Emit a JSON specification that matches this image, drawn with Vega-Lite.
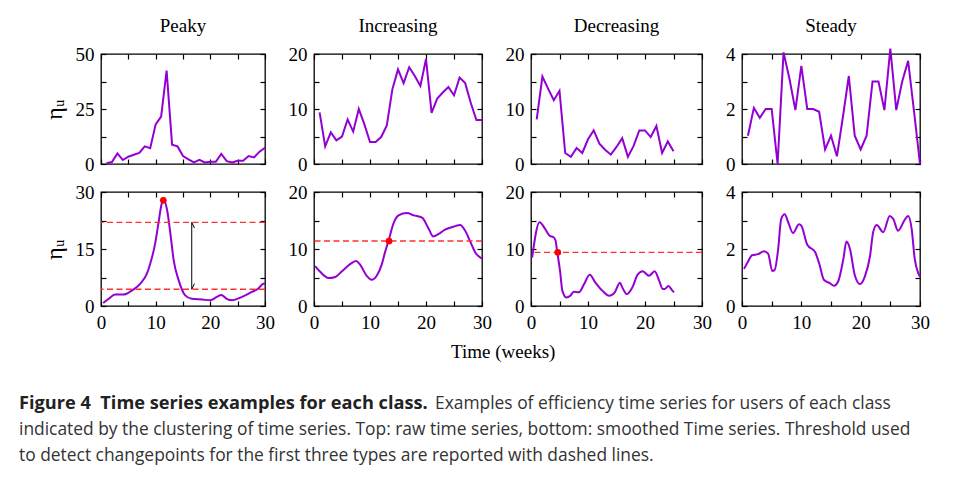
{
 "$schema": "https://vega.github.io/schema/vega-lite/v6.json",
 "padding": {"left": 18, "top": 15, "right": 0, "bottom": 0},
 "background": "white",
 "datasets": {
  "raw": [
   {"c":"Peaky","t":1,"v":0.3},{"c":"Peaky","t":2,"v":0.9},{"c":"Peaky","t":3,"v":4.8},{"c":"Peaky","t":4,"v":1.8},{"c":"Peaky","t":5,"v":3.3},{"c":"Peaky","t":6,"v":4.2},{"c":"Peaky","t":7,"v":5.0},{"c":"Peaky","t":8,"v":8.0},{"c":"Peaky","t":9,"v":7.2},{"c":"Peaky","t":10,"v":18},{"c":"Peaky","t":11,"v":21.5},{"c":"Peaky","t":12,"v":42.5},{"c":"Peaky","t":13,"v":8.8},{"c":"Peaky","t":14,"v":8.0},{"c":"Peaky","t":15,"v":3.6},{"c":"Peaky","t":16,"v":2.1},{"c":"Peaky","t":17,"v":0.7},{"c":"Peaky","t":18,"v":1.9},{"c":"Peaky","t":19,"v":0.7},{"c":"Peaky","t":20,"v":1.0},{"c":"Peaky","t":21,"v":1.0},{"c":"Peaky","t":22,"v":4.6},{"c":"Peaky","t":23,"v":1.3},{"c":"Peaky","t":24,"v":0.7},{"c":"Peaky","t":25,"v":1.5},{"c":"Peaky","t":26,"v":1.5},{"c":"Peaky","t":27,"v":3.6},{"c":"Peaky","t":28,"v":3.0},{"c":"Peaky","t":29,"v":5.6},{"c":"Peaky","t":30,"v":7.4},
   {"c":"Increasing","t":1,"v":9.4},{"c":"Increasing","t":2,"v":3.2},{"c":"Increasing","t":3,"v":5.75},{"c":"Increasing","t":4,"v":4.3},{"c":"Increasing","t":5,"v":5.0},{"c":"Increasing","t":6,"v":8.1},{"c":"Increasing","t":7,"v":5.9},{"c":"Increasing","t":8,"v":10.0},{"c":"Increasing","t":9,"v":7.2},{"c":"Increasing","t":10,"v":4.0},{"c":"Increasing","t":11,"v":4.0},{"c":"Increasing","t":12,"v":4.9},{"c":"Increasing","t":13,"v":7.0},{"c":"Increasing","t":14,"v":13.6},{"c":"Increasing","t":15,"v":17.2},{"c":"Increasing","t":16,"v":14.7},{"c":"Increasing","t":17,"v":17.6},{"c":"Increasing","t":18,"v":16},{"c":"Increasing","t":19,"v":14.2},{"c":"Increasing","t":20,"v":19.1},{"c":"Increasing","t":21,"v":9.3},{"c":"Increasing","t":22,"v":11.9},{"c":"Increasing","t":23,"v":13},{"c":"Increasing","t":24,"v":14},{"c":"Increasing","t":25,"v":12.5},{"c":"Increasing","t":26,"v":15.7},{"c":"Increasing","t":27,"v":14.7},{"c":"Increasing","t":28,"v":11.1},{"c":"Increasing","t":29,"v":8.0},{"c":"Increasing","t":30,"v":8.0},
   {"c":"Decreasing","t":1,"v":8.1},{"c":"Decreasing","t":2,"v":15.9},{"c":"Decreasing","t":3,"v":13.7},{"c":"Decreasing","t":4,"v":11.6},{"c":"Decreasing","t":5,"v":13.3},{"c":"Decreasing","t":6,"v":2.0},{"c":"Decreasing","t":7,"v":1.3},{"c":"Decreasing","t":8,"v":2.9},{"c":"Decreasing","t":9,"v":2.0},{"c":"Decreasing","t":10,"v":4.5},{"c":"Decreasing","t":11,"v":6.1},{"c":"Decreasing","t":12,"v":3.7},{"c":"Decreasing","t":13,"v":2.6},{"c":"Decreasing","t":14,"v":1.7},{"c":"Decreasing","t":15,"v":3.1},{"c":"Decreasing","t":16,"v":4.7},{"c":"Decreasing","t":17,"v":1.3},{"c":"Decreasing","t":18,"v":3.3},{"c":"Decreasing","t":19,"v":6.1},{"c":"Decreasing","t":20,"v":6.1},{"c":"Decreasing","t":21,"v":4.9},{"c":"Decreasing","t":22,"v":6.9},{"c":"Decreasing","t":23,"v":2.0},{"c":"Decreasing","t":24,"v":4.1},{"c":"Decreasing","t":25,"v":2.3},
   {"c":"Steady","t":1,"v":1.03},{"c":"Steady","t":2,"v":2.04},{"c":"Steady","t":3,"v":1.68},{"c":"Steady","t":4,"v":2.0},{"c":"Steady","t":5,"v":2.0},{"c":"Steady","t":6,"v":0},{"c":"Steady","t":7,"v":4.06},{"c":"Steady","t":8,"v":3.1},{"c":"Steady","t":9,"v":1.96},{"c":"Steady","t":10,"v":3.57},{"c":"Steady","t":11,"v":2.0},{"c":"Steady","t":12,"v":2.0},{"c":"Steady","t":13,"v":1.9},{"c":"Steady","t":14,"v":0.53},{"c":"Steady","t":15,"v":1.03},{"c":"Steady","t":16,"v":0.28},{"c":"Steady","t":17,"v":1.7},{"c":"Steady","t":18,"v":3.2},{"c":"Steady","t":19,"v":1.03},{"c":"Steady","t":20,"v":0.53},{"c":"Steady","t":21,"v":1.03},{"c":"Steady","t":22,"v":3.0},{"c":"Steady","t":23,"v":3.0},{"c":"Steady","t":24,"v":1.96},{"c":"Steady","t":25,"v":4.2},{"c":"Steady","t":26,"v":1.96},{"c":"Steady","t":27,"v":3.0},{"c":"Steady","t":28,"v":3.75},{"c":"Steady","t":29,"v":1.9},{"c":"Steady","t":30,"v":0}
  ],
  "smooth": [
   {"c":"Peaky","t":0.4,"v":0.8},{"c":"Peaky","t":1.4,"v":1.9},{"c":"Peaky","t":2.6,"v":3.0},{"c":"Peaky","t":4.1,"v":3.0},{"c":"Peaky","t":5.7,"v":4.1},{"c":"Peaky","t":7.2,"v":5.9},{"c":"Peaky","t":8.4,"v":8.5},{"c":"Peaky","t":9.0,"v":11.1},{"c":"Peaky","t":9.9,"v":16.4},{"c":"Peaky","t":10.5,"v":21.7},{"c":"Peaky","t":11.1,"v":26.9},{"c":"Peaky","t":11.5,"v":27.9},{"c":"Peaky","t":12.1,"v":25.2},{"c":"Peaky","t":12.7,"v":19},{"c":"Peaky","t":13.3,"v":12},{"c":"Peaky","t":14.2,"v":6.8},{"c":"Peaky","t":15.4,"v":2.8},{"c":"Peaky","t":16.6,"v":1.9},{"c":"Peaky","t":18.5,"v":1.7},{"c":"Peaky","t":20,"v":1.5},{"c":"Peaky","t":21.2,"v":2.4},{"c":"Peaky","t":22,"v":2.9},{"c":"Peaky","t":23,"v":1.9},{"c":"Peaky","t":24,"v":1.5},{"c":"Peaky","t":25.8,"v":2.4},{"c":"Peaky","t":27.6,"v":3.7},{"c":"Peaky","t":28.8,"v":4.6},{"c":"Peaky","t":29.5,"v":5.7},{"c":"Peaky","t":30,"v":5.9},
   {"c":"Increasing","t":0.2,"v":7.0},{"c":"Increasing","t":1.1,"v":6.0},{"c":"Increasing","t":2.6,"v":4.9},{"c":"Increasing","t":3.8,"v":5.1},{"c":"Increasing","t":5,"v":6.1},{"c":"Increasing","t":6.4,"v":7.3},{"c":"Increasing","t":7.5,"v":7.9},{"c":"Increasing","t":8.2,"v":7.3},{"c":"Increasing","t":9.4,"v":5.3},{"c":"Increasing","t":10.3,"v":4.6},{"c":"Increasing","t":11.2,"v":5.3},{"c":"Increasing","t":12.1,"v":7.3},{"c":"Increasing","t":12.7,"v":9.5},{"c":"Increasing","t":13.3,"v":11.4},{"c":"Increasing","t":14.2,"v":14.5},{"c":"Increasing","t":15.1,"v":15.9},{"c":"Increasing","t":16.6,"v":16.3},{"c":"Increasing","t":17.8,"v":15.9},{"c":"Increasing","t":19.3,"v":15.5},{"c":"Increasing","t":20.5,"v":13.5},{"c":"Increasing","t":21.3,"v":12.2},{"c":"Increasing","t":22.2,"v":12.6},{"c":"Increasing","t":23.4,"v":13.4},{"c":"Increasing","t":24.9,"v":13.9},{"c":"Increasing","t":26.1,"v":14.2},{"c":"Increasing","t":27,"v":13.2},{"c":"Increasing","t":27.9,"v":11.3},{"c":"Increasing","t":28.8,"v":9.4},{"c":"Increasing","t":30,"v":8.3},
   {"c":"Decreasing","t":0.2,"v":8.5},{"c":"Decreasing","t":1.5,"v":14.7},{"c":"Decreasing","t":2.5,"v":13.5},{"c":"Decreasing","t":3.3,"v":12.3},{"c":"Decreasing","t":3.9,"v":12.1},{"c":"Decreasing","t":4.3,"v":11.5},{"c":"Decreasing","t":4.6,"v":9.5},{"c":"Decreasing","t":5.1,"v":6.1},{"c":"Decreasing","t":5.5,"v":2.7},{"c":"Decreasing","t":6.2,"v":1.5},{"c":"Decreasing","t":6.9,"v":1.8},{"c":"Decreasing","t":7.5,"v":2.5},{"c":"Decreasing","t":8.4,"v":2.4},{"c":"Decreasing","t":9.3,"v":3.8},{"c":"Decreasing","t":10.3,"v":5.5},{"c":"Decreasing","t":11.3,"v":4.1},{"c":"Decreasing","t":12.5,"v":2.7},{"c":"Decreasing","t":13.7,"v":1.8},{"c":"Decreasing","t":14.7,"v":2.4},{"c":"Decreasing","t":15.6,"v":4.1},{"c":"Decreasing","t":16,"v":3.3},{"c":"Decreasing","t":16.8,"v":2.1},{"c":"Decreasing","t":17.8,"v":3.3},{"c":"Decreasing","t":18.7,"v":5.5},{"c":"Decreasing","t":19.6,"v":6.1},{"c":"Decreasing","t":20.7,"v":5.3},{"c":"Decreasing","t":21.7,"v":6.1},{"c":"Decreasing","t":22.5,"v":4.4},{"c":"Decreasing","t":23.1,"v":3.0},{"c":"Decreasing","t":23.5,"v":3.0},{"c":"Decreasing","t":24.1,"v":3.5},{"c":"Decreasing","t":24.8,"v":2.7},{"c":"Decreasing","t":25.1,"v":2.4},
   {"c":"Steady","t":0.34,"v":1.3},{"c":"Steady","t":1.0,"v":1.55},{"c":"Steady","t":1.7,"v":1.78},{"c":"Steady","t":2.7,"v":1.82},{"c":"Steady","t":3.7,"v":1.92},{"c":"Steady","t":4.4,"v":1.84},{"c":"Steady","t":5.1,"v":1.23},{"c":"Steady","t":5.5,"v":1.26},{"c":"Steady","t":6.1,"v":2.0},{"c":"Steady","t":6.6,"v":3.05},{"c":"Steady","t":7.2,"v":3.22},{"c":"Steady","t":7.8,"v":2.93},{"c":"Steady","t":8.6,"v":2.56},{"c":"Steady","t":9.6,"v":2.87},{"c":"Steady","t":10,"v":2.82},{"c":"Steady","t":11,"v":2.15},{"c":"Steady","t":12.3,"v":1.9},{"c":"Steady","t":13,"v":1.5},{"c":"Steady","t":13.8,"v":0.92},{"c":"Steady","t":14.8,"v":0.8},{"c":"Steady","t":15.5,"v":0.71},{"c":"Steady","t":16.2,"v":0.86},{"c":"Steady","t":17.1,"v":1.67},{"c":"Steady","t":17.6,"v":2.26},{"c":"Steady","t":18.2,"v":2.0},{"c":"Steady","t":19,"v":1.09},{"c":"Steady","t":19.9,"v":0.77},{"c":"Steady","t":20.7,"v":1.03},{"c":"Steady","t":21.6,"v":1.78},{"c":"Steady","t":22.1,"v":2.59},{"c":"Steady","t":22.7,"v":2.84},{"c":"Steady","t":23.8,"v":2.59},{"c":"Steady","t":24.9,"v":3.16},{"c":"Steady","t":25.5,"v":3.05},{"c":"Steady","t":26.3,"v":2.64},{"c":"Steady","t":27.5,"v":3.05},{"c":"Steady","t":28,"v":3.16},{"c":"Steady","t":28.6,"v":2.7},{"c":"Steady","t":29.1,"v":1.67},{"c":"Steady","t":29.7,"v":1.15},{"c":"Steady","t":30,"v":1.03}
  ],
  "thr": [{"c":"Peaky","v":22},{"c":"Peaky","v":4.4},{"c":"Increasing","v":11.4},{"c":"Decreasing","v":9.4}],
  "dots": [{"c":"Peaky","t":11.4,"v":27.8},{"c":"Increasing","t":13.4,"v":11.4},{"c":"Decreasing","t":4.7,"v":9.4}],
  "arrow": [{"t":16.6,"v":22,"t2":16.6,"v2":4.4},{"t":16.6,"v":22,"t2":17.1,"v2":20.5},{"t":16.6,"v":4.4,"t2":17.1,"v2":5.9}],
  "caption": [
   {"line":0,"w":"b","pos":0,"text":"Figure 4\u00a0 Time series examples for each class."},
   {"line":0,"w":"n","pos":416,"text":"Examples of efficiency time series for users of each class"},
   {"line":1,"w":"n","pos":0,"text":"indicated by the clustering of time series. Top: raw time series, bottom: smoothed Time series. Threshold used"},
   {"line":2,"w":"n","pos":0,"text":"to detect changepoints for the first three types are reported with dashed lines."}
  ]
 },
 "vconcat": [
  {
   "hconcat": [
    {"vconcat": [
     {"title": "Peaky", "width": 164, "height": 110, "data": {"name": "raw"}, "transform": [{"filter": "datum.c == 'Peaky'"}],
      "layer": [
       {"mark": "line", "encoding": {
        "x": {"field": "t", "type": "quantitative", "scale": {"domain": [0, 30], "nice": false, "zero": false}, "axis": {"values": [0,5,10,15,20,25,30], "labels": false, "title": null}},
        "y": {"field": "v", "type": "quantitative", "scale": {"domain": [0, 50], "nice": false}, "axis": {"values": [0,12.5,25,37.5,50], "labelExpr": "datum.value % 25 == 0 ? datum.label : ''", "title": "ηᵤ"}}}},
       {"mark": {"type": "line", "opacity": 0}, "encoding": {
        "x": {"field": "t", "type": "quantitative", "axis": {"orient": "top", "values": [0,5,10,15,20,25,30], "labels": false, "title": null}},
        "y": {"field": "v", "type": "quantitative", "axis": {"orient": "right", "values": [0,12.5,25,37.5,50], "labels": false, "title": null}}}},
       {"mark": {"type": "line", "opacity": 0}, "encoding": {
        "x": {"field": "t", "type": "quantitative", "axis": null},
        "y": {"field": "v", "type": "quantitative", "axis": {"orient": "left", "offset": 82, "labels": false, "ticks": false, "domain": true, "domainOpacity": 0, "title": null}}}}
      ],
      "resolve": {"axis": {"x": "independent", "y": "independent"}}},
     {"width": 164, "height": 114,
      "layer": [
       {"data": {"name": "smooth"}, "transform": [{"filter": "datum.c == 'Peaky'"}], "mark": {"type": "line", "interpolate": "monotone"}, "encoding": {
        "x": {"field": "t", "type": "quantitative", "scale": {"domain": [0, 30], "nice": false, "zero": false}, "axis": {"values": [0,5,10,15,20,25,30], "labelExpr": "datum.value % 10 == 0 ? datum.label : ''", "title": null}},
        "y": {"field": "v", "type": "quantitative", "scale": {"domain": [0, 30], "nice": false}, "axis": {"values": [0,7.5,15,22.5,30], "labelExpr": "datum.value % 15 == 0 ? datum.label : ''", "title": "ηᵤ"}}}},
       {"data": {"name": "smooth"}, "transform": [{"filter": "datum.c == 'Peaky'"}], "mark": {"type": "line", "opacity": 0}, "encoding": {
        "x": {"field": "t", "type": "quantitative", "axis": {"orient": "top", "values": [0,5,10,15,20,25,30], "labels": false, "title": null}},
        "y": {"field": "v", "type": "quantitative", "axis": {"orient": "right", "values": [0,7.5,15,22.5,30], "labels": false, "title": null}}}},
       {"data": {"name": "thr"}, "transform": [{"filter": "datum.c == 'Peaky'"}], "mark": {"type": "rule", "color": "#ff3030", "strokeDash": [6, 3.5], "strokeWidth": 1.4}, "encoding": {
        "y": {"field": "v", "type": "quantitative", "axis": null}}},
       {"data": {"name": "arrow"}, "mark": {"type": "rule", "color": "#000", "strokeWidth": 1}, "encoding": {
        "x": {"field": "t", "type": "quantitative", "axis": null}, "x2": {"field": "t2"},
        "y": {"field": "v", "type": "quantitative", "axis": null}, "y2": {"field": "v2"}}},
       {"data": {"name": "dots"}, "transform": [{"filter": "datum.c == 'Peaky'"}], "mark": {"type": "circle", "color": "#ff0000", "size": 45, "opacity": 1}, "encoding": {
        "x": {"field": "t", "type": "quantitative", "axis": null},
        "y": {"field": "v", "type": "quantitative", "axis": null}}}
      ],
      "resolve": {"axis": {"x": "independent", "y": "independent"}}}
    ], "spacing": 28, "bounds": "flush"},
    {"vconcat": [
     {"title": "Increasing", "width": 168, "height": 110, "data": {"name": "raw"}, "transform": [{"filter": "datum.c == 'Increasing'"}],
      "layer": [
       {"mark": "line", "encoding": {
        "x": {"field": "t", "type": "quantitative", "scale": {"domain": [0, 30], "nice": false, "zero": false}, "axis": {"values": [0,5,10,15,20,25,30], "labels": false, "title": null}},
        "y": {"field": "v", "type": "quantitative", "scale": {"domain": [0, 20], "nice": false}, "axis": {"values": [0,5,10,15,20], "labelExpr": "datum.value % 10 == 0 ? datum.label : ''", "title": null}}}},
       {"mark": {"type": "line", "opacity": 0}, "encoding": {
        "x": {"field": "t", "type": "quantitative", "axis": {"orient": "top", "values": [0,5,10,15,20,25,30], "labels": false, "title": null}},
        "y": {"field": "v", "type": "quantitative", "axis": {"orient": "right", "values": [0,5,10,15,20], "labels": false, "title": null}}}}
      ],
      "resolve": {"axis": {"x": "independent", "y": "independent"}}},
     {"width": 168, "height": 114,
      "layer": [
       {"data": {"name": "smooth"}, "transform": [{"filter": "datum.c == 'Increasing'"}], "mark": {"type": "line", "interpolate": "monotone"}, "encoding": {
        "x": {"field": "t", "type": "quantitative", "scale": {"domain": [0, 30], "nice": false, "zero": false}, "axis": {"values": [0,5,10,15,20,25,30], "labelExpr": "datum.value % 10 == 0 ? datum.label : ''", "title": null}},
        "y": {"field": "v", "type": "quantitative", "scale": {"domain": [0, 20], "nice": false}, "axis": {"values": [0,5,10,15,20], "labelExpr": "datum.value % 10 == 0 ? datum.label : ''", "title": null}}}},
       {"data": {"name": "smooth"}, "transform": [{"filter": "datum.c == 'Increasing'"}], "mark": {"type": "line", "opacity": 0}, "encoding": {
        "x": {"field": "t", "type": "quantitative", "axis": {"orient": "top", "values": [0,5,10,15,20,25,30], "labels": false, "title": null}},
        "y": {"field": "v", "type": "quantitative", "axis": {"orient": "right", "values": [0,5,10,15,20], "labels": false, "title": null}}}},
       {"data": {"name": "thr"}, "transform": [{"filter": "datum.c == 'Increasing'"}], "mark": {"type": "rule", "color": "#ff3030", "strokeDash": [6, 3.5], "strokeWidth": 1.4}, "encoding": {
        "y": {"field": "v", "type": "quantitative", "axis": null}}},
       {"data": {"name": "dots"}, "transform": [{"filter": "datum.c == 'Increasing'"}], "mark": {"type": "circle", "color": "#ff0000", "size": 45, "opacity": 1}, "encoding": {
        "x": {"field": "t", "type": "quantitative", "axis": null},
        "y": {"field": "v", "type": "quantitative", "axis": null}}}
      ],
      "resolve": {"axis": {"x": "independent", "y": "independent"}}}
    ], "spacing": 28, "bounds": "flush"},
    {"vconcat": [
     {"title": "Decreasing", "width": 171, "height": 110, "data": {"name": "raw"}, "transform": [{"filter": "datum.c == 'Decreasing'"}],
      "layer": [
       {"mark": "line", "encoding": {
        "x": {"field": "t", "type": "quantitative", "scale": {"domain": [0, 30], "nice": false, "zero": false}, "axis": {"values": [0,5,10,15,20,25,30], "labels": false, "title": null}},
        "y": {"field": "v", "type": "quantitative", "scale": {"domain": [0, 20], "nice": false}, "axis": {"values": [0,5,10,15,20], "labelExpr": "datum.value % 10 == 0 ? datum.label : ''", "title": null}}}},
       {"mark": {"type": "line", "opacity": 0}, "encoding": {
        "x": {"field": "t", "type": "quantitative", "axis": {"orient": "top", "values": [0,5,10,15,20,25,30], "labels": false, "title": null}},
        "y": {"field": "v", "type": "quantitative", "axis": {"orient": "right", "values": [0,5,10,15,20], "labels": false, "title": null}}}}
      ],
      "resolve": {"axis": {"x": "independent", "y": "independent"}}},
     {"width": 171, "height": 114,
      "layer": [
       {"data": {"name": "smooth"}, "transform": [{"filter": "datum.c == 'Decreasing'"}], "mark": {"type": "line", "interpolate": "monotone"}, "encoding": {
        "x": {"field": "t", "type": "quantitative", "scale": {"domain": [0, 30], "nice": false, "zero": false}, "axis": {"values": [0,5,10,15,20,25,30], "labelExpr": "datum.value % 10 == 0 ? datum.label : ''", "title": null}},
        "y": {"field": "v", "type": "quantitative", "scale": {"domain": [0, 20], "nice": false}, "axis": {"values": [0,5,10,15,20], "labelExpr": "datum.value % 10 == 0 ? datum.label : ''", "title": null}}}},
       {"data": {"name": "smooth"}, "transform": [{"filter": "datum.c == 'Decreasing'"}], "mark": {"type": "line", "opacity": 0}, "encoding": {
        "x": {"field": "t", "type": "quantitative", "axis": {"orient": "top", "values": [0,5,10,15,20,25,30], "labels": false, "title": null}},
        "y": {"field": "v", "type": "quantitative", "axis": {"orient": "right", "values": [0,5,10,15,20], "labels": false, "title": null}}}},
       {"data": {"name": "thr"}, "transform": [{"filter": "datum.c == 'Decreasing'"}], "mark": {"type": "rule", "color": "#ff3030", "strokeDash": [6, 3.5], "strokeWidth": 1.4}, "encoding": {
        "y": {"field": "v", "type": "quantitative", "axis": null}}},
       {"data": {"name": "dots"}, "transform": [{"filter": "datum.c == 'Decreasing'"}], "mark": {"type": "circle", "color": "#ff0000", "size": 45, "opacity": 1}, "encoding": {
        "x": {"field": "t", "type": "quantitative", "axis": null},
        "y": {"field": "v", "type": "quantitative", "axis": null}}}
      ],
      "resolve": {"axis": {"x": "independent", "y": "independent"}}}
    ], "spacing": 28, "bounds": "flush"},
    {"vconcat": [
     {"title": "Steady", "width": 178, "height": 110, "data": {"name": "raw"}, "transform": [{"filter": "datum.c == 'Steady'"}],
      "layer": [
       {"mark": "line", "encoding": {
        "x": {"field": "t", "type": "quantitative", "scale": {"domain": [0, 30], "nice": false, "zero": false}, "axis": {"values": [0,5,10,15,20,25,30], "labels": false, "title": null}},
        "y": {"field": "v", "type": "quantitative", "scale": {"domain": [0, 4], "nice": false}, "axis": {"values": [0,1,2,3,4], "labelExpr": "datum.value % 2 == 0 ? datum.label : ''", "title": null}}}},
       {"mark": {"type": "line", "opacity": 0}, "encoding": {
        "x": {"field": "t", "type": "quantitative", "axis": {"orient": "top", "values": [0,5,10,15,20,25,30], "labels": false, "title": null}},
        "y": {"field": "v", "type": "quantitative", "axis": {"orient": "right", "values": [0,1,2,3,4], "labels": false, "title": null}}}}
      ],
      "resolve": {"axis": {"x": "independent", "y": "independent"}}},
     {"width": 178, "height": 114, "data": {"name": "smooth"}, "transform": [{"filter": "datum.c == 'Steady'"}],
      "layer": [
       {"mark": {"type": "line", "interpolate": "monotone"}, "encoding": {
        "x": {"field": "t", "type": "quantitative", "scale": {"domain": [0, 30], "nice": false, "zero": false}, "axis": {"values": [0,5,10,15,20,25,30], "labelExpr": "datum.value % 10 == 0 ? datum.label : ''", "title": null}},
        "y": {"field": "v", "type": "quantitative", "scale": {"domain": [0, 4], "nice": false}, "axis": {"values": [0,1,2,3,4], "labelExpr": "datum.value % 2 == 0 ? datum.label : ''", "title": null}}}},
       {"mark": {"type": "line", "opacity": 0}, "encoding": {
        "x": {"field": "t", "type": "quantitative", "axis": {"orient": "top", "values": [0,5,10,15,20,25,30], "labels": false, "title": null}},
        "y": {"field": "v", "type": "quantitative", "axis": {"orient": "right", "values": [0,1,2,3,4], "labels": false, "title": null}}}}
      ],
      "resolve": {"axis": {"x": "independent", "y": "independent"}}}
    ], "spacing": 28, "bounds": "flush"}
   ],
   "spacing": 11,
   "title": {"text": "Time (weeks)", "orient": "bottom", "anchor": "middle", "frame": "bounds", "offset": 10, "dx": 29, "baseline": "top"}
  },
  {
   "width": 941, "height": 78,
   "view": {"stroke": null},
   "data": {"name": "caption"},
   "layer": [
    {"transform": [{"filter": "datum.w == 'b'"}], "mark": {"type": "text", "align": "left", "baseline": "middle", "font": "Open Sans", "fontSize": 18.2, "fontWeight": "bold", "color": "#222"},
     "encoding": {
      "x": {"field": "pos", "type": "quantitative", "scale": {"domain": [82, 1023], "nice": false, "zero": false}, "axis": null},
      "y": {"field": "line", "type": "ordinal", "scale": {"type": "point", "padding": 0.5}, "axis": null},
      "text": {"field": "text"}}},
    {"transform": [{"filter": "datum.w == 'n'"}], "mark": {"type": "text", "align": "left", "baseline": "middle", "font": "Open Sans", "fontSize": 17.4, "color": "#333"},
     "encoding": {
      "x": {"field": "pos", "type": "quantitative", "axis": null},
      "y": {"field": "line", "type": "ordinal", "axis": null},
      "text": {"field": "text"}}}
   ]
  }
 ],
 "spacing": 29,
 "config": {
  "font": "Liberation Serif",
  "view": {"stroke": "#000", "strokeWidth": 1.3},
  "axis": {"grid": false, "domain": false, "ticks": true, "tickSize": -5, "tickColor": "#000", "tickWidth": 1.2, "labelFont": "Liberation Serif", "labelFontSize": 19, "labelColor": "#000", "labelPadding": 12, "labelFlush": false, "labelOverlap": false, "titleFont": "Liberation Serif", "titleFontWeight": "normal", "titleColor": "#000", "titleFontSize": 24, "titlePadding": 9},
  "title": {"font": "Liberation Serif", "fontSize": 19, "fontWeight": "normal", "color": "#000", "anchor": "middle", "frame": "group", "baseline": "alphabetic", "offset": 9},
  "line": {"color": "#9400d3", "strokeWidth": 2}
 }
}
